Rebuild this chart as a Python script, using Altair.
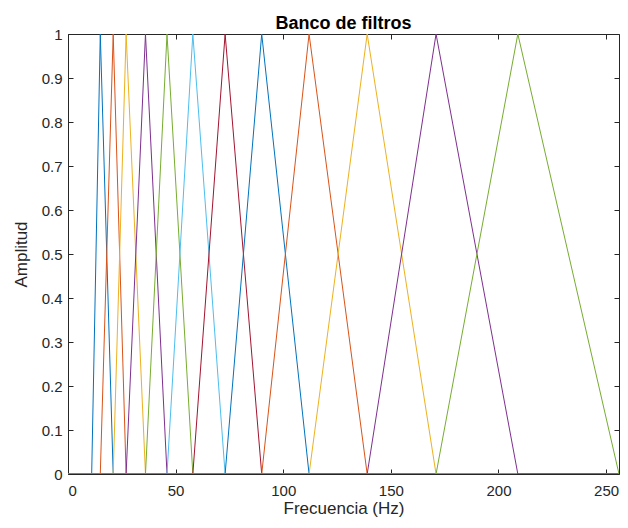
import altair as alt
import pandas as pd

# Frequencies (Hz) of the triangle edges: filter k goes puntos[k] -> peak puntos[k+1] -> puntos[k+2]
puntos = [11, 15, 21, 27, 36, 46, 58, 73, 90, 112, 139, 171, 209, 256]
f_max = 256
x_ticks = [0, 50, 100, 150, 200, 250]
y_ticks = [0, 0.1, 0.2, 0.3, 0.4, 0.5, 0.6, 0.7, 0.8, 0.9, 1]
colores = ["#0072BD", "#D95319", "#EDB120", "#7E2F8E", "#77AC30", "#4DBEEE", "#A2142F"]

rows = []
nombres = []
for k in range(len(puntos) - 2):
    a, b, c = puntos[k], puntos[k + 1], puntos[k + 2]
    name = f"F{k + 1:02d}"
    nombres.append(name)
    xs = [0, a, b, c, f_max]
    ys = [0, 0, 1, 0, 0]
    prev = None
    i = 0
    for x, y in zip(xs, ys):
        if prev is not None and x == prev:
            continue
        rows.append({"filtro": name, "f": x, "amp": y, "i": i})
        prev = x
        i += 1
df = pd.DataFrame(rows)
rango = [colores[k % len(colores)] for k in range(len(nombres))]

W, H = 551, 440
txt = "#262626"
font = "Liberation Sans"
x_scale = alt.Scale(domain=[0, f_max], nice=False, zero=False)
y_scale = alt.Scale(domain=[0, 1], nice=False)

lines = alt.Chart(df).mark_line(strokeWidth=1, clip=True).encode(
    x=alt.X("f:Q", scale=x_scale, axis=alt.Axis(
        title="Frecuencia (Hz)", values=x_ticks, ticks=False, domain=False, grid=False,
        labelPadding=9, labelFontSize=15, labelColor=txt, labelFont=font,
        titleFontSize=17, titleFontWeight="normal", titleColor=txt, titleFont=font,
        titlePadding=2, orient="bottom")),
    y=alt.Y("amp:Q", scale=y_scale, axis=alt.Axis(
        title="Amplitud", values=y_ticks, format="~g", ticks=False, domain=False, grid=False,
        labelPadding=6, labelFontSize=15, labelColor=txt, labelFont=font,
        titleFontSize=17, titleFontWeight="normal", titleColor=txt, titleFont=font,
        titlePadding=11, orient="left")),
    color=alt.Color("filtro:N", scale=alt.Scale(domain=nombres, range=rango), legend=None),
    order=alt.Order("i:Q"),
)

def tick_axis(orient, offset, vals):
    return alt.Axis(orient=orient, offset=offset, values=vals, labels=False, domain=False,
                    grid=False, ticks=True, tickSize=5, tickColor=txt, tickWidth=1, title=None)

ticks_in1 = alt.Chart(df).mark_point(opacity=0).encode(
    x=alt.X("f:Q", scale=x_scale, axis=tick_axis("top", -H, x_ticks)),
    y=alt.Y("amp:Q", scale=y_scale, axis=tick_axis("right", -W, y_ticks)),
)
ticks_in2 = alt.Chart(df).mark_point(opacity=0).encode(
    x=alt.X("f:Q", scale=x_scale, axis=tick_axis("bottom", -H, x_ticks)),
    y=alt.Y("amp:Q", scale=y_scale, axis=tick_axis("left", -W, y_ticks)),
)

chart = alt.layer(lines, ticks_in1, ticks_in2).resolve_axis(
    x="independent", y="independent"
).properties(
    width=W, height=H,
    title=alt.TitleParams("Banco de filtros", fontSize=18, fontWeight="bold",
                          color="#000000", font=font, anchor="middle", offset=0, dy=6),
    autosize=alt.AutoSizeParams(type="none"),
    padding={"left": 60, "top": 26, "right": 1, "bottom": 44},
    background="white",
).configure_view(stroke=txt, strokeWidth=1)

chart.save("out.html", embed_options={"renderer": "svg", "actions": False})
